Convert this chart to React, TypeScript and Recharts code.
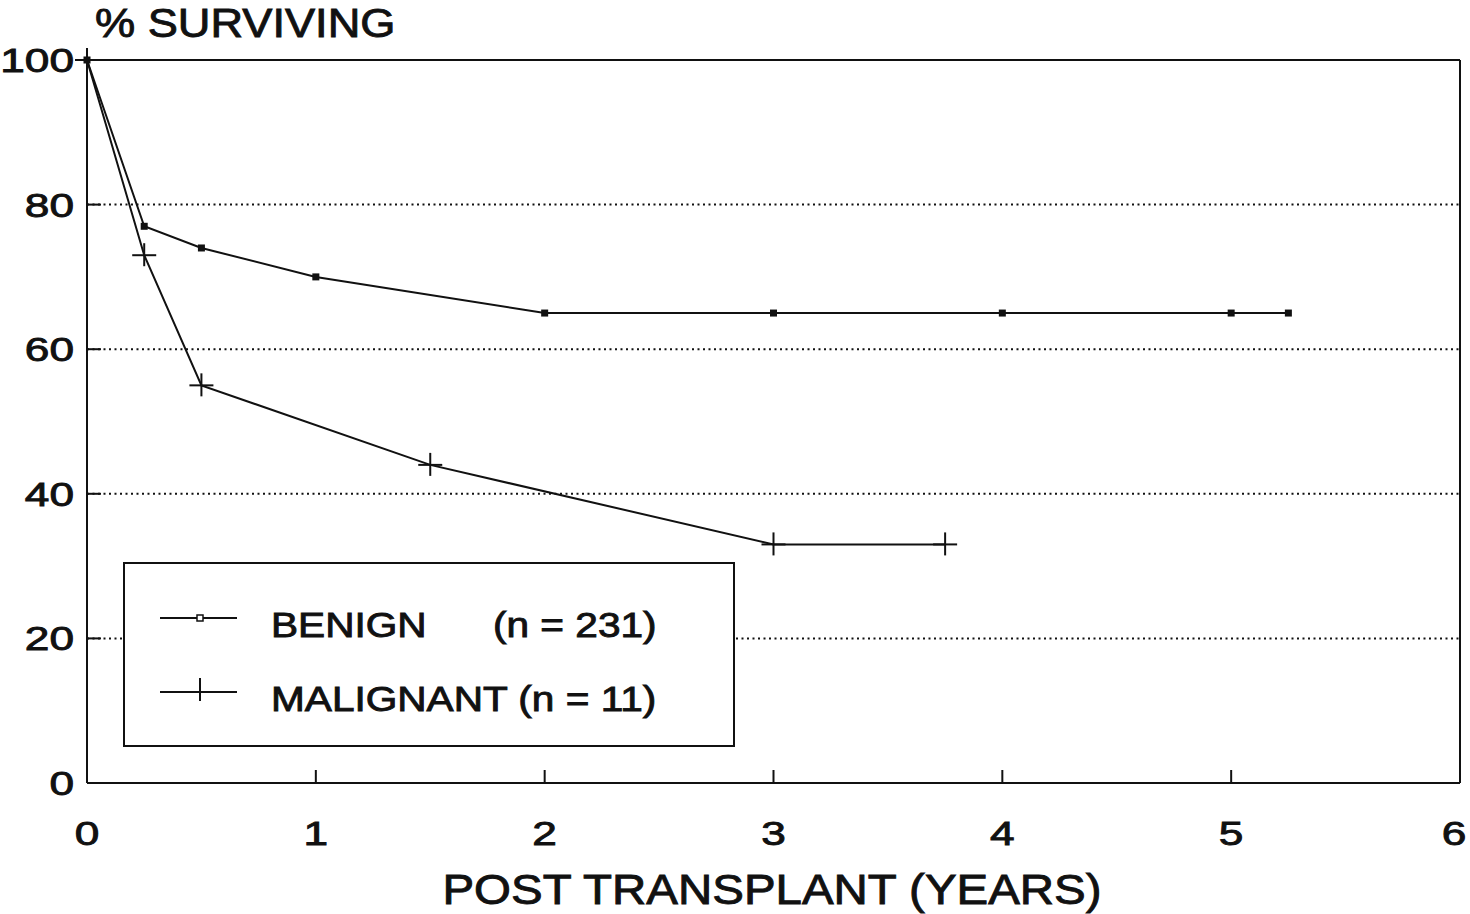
import React from "react";
import {
  LineChart, Line, XAxis, YAxis, CartesianGrid, ReferenceLine,
} from "recharts";

// survival curves
const benignYears = [0, 0.25, 0.5, 1, 2, 3, 4, 5, 5.25];
const benignSurvival = [100, 77, 74, 70, 65, 65, 65, 65, 65];
const malignantYears = [0, 0.25, 0.5, 1.5, 3, 3.75];
const malignantSurvival = [100, 73, 55, 44, 33, 33];

const xTicks = [0, 1, 2, 3, 4, 5, 6];
const yTicks = [0, 20, 40, 60, 80, 100];

const benignLabel = "BENIGN";
const benignCount = "(n = 231)";
const malignantLabel = "MALIGNANT (n = 11)";

const benignData = benignYears.map((x, i) => ({ x, y: benignSurvival[i] }));
const malignantData = malignantYears.map((x, i) => ({ x, y: malignantSurvival[i] }));

const FONT = "'Liberation Sans', Arial, Helvetica, sans-serif";
const INK = "#111";

// the print uses a wide grotesque, so stretch Arial-metric glyphs a little
function WideText({ x, y, size, sx = 1.14, anchor = "start", children }: any) {
  return (
    <text
      transform={`translate(${x},${y}) scale(${sx},1)`}
      textAnchor={anchor}
      fontFamily={FONT}
      fontSize={size}
      fill={INK}
      stroke={INK}
      strokeWidth={0.9}
    >
      {children}
    </text>
  );
}

function YTick({ x, y, payload }: any) {
  return (
    <g>
      <WideText x={x - 13} y={y + 12} size={34} sx={1.3} anchor="end">
        {payload.value}
      </WideText>
      <line x1={x} x2={x + 14} y1={y} y2={y} stroke={INK} strokeWidth={2} />
    </g>
  );
}

function XTick({ x, y, payload }: any) {
  // last label sits on the page edge; keep it inside
  const tx = Math.min(x, 1454);
  return (
    <g>
      <line x1={x} x2={x} y1={y} y2={y - 13} stroke={INK} strokeWidth={2} />
      <WideText x={tx} y={y + 62} size={34} sx={1.3} anchor="middle">
        {payload.value}
      </WideText>
    </g>
  );
}

function SquareDot({ cx, cy, index }: any) {
  return <rect key={`s${index}`} x={cx - 3.5} y={cy - 3.5} width={7} height={7} fill={INK} />;
}

function PlusDot({ cx, cy, index }: any) {
  return (
    <g key={`p${index}`}>
      <line x1={cx - 12} x2={cx + 12} y1={cy} y2={cy} stroke={INK} strokeWidth={2} />
      <line x1={cx} x2={cx} y1={cy - 12} y2={cy + 11} stroke={INK} strokeWidth={2} />
    </g>
  );
}

function LegendBox() {
  return (
    <div
      style={{
        position: "absolute", left: 123, top: 562, width: 608, height: 181,
        border: `2px solid ${INK}`, background: "#fff",
      }}
    >
      <svg width={608} height={181} style={{ display: "block" }}>
        <g transform="translate(-125,-564)">
          <line x1={160} x2={237} y1={618} y2={618} stroke={INK} strokeWidth={2} />
          <rect x={197} y={615} width={6} height={6} fill="#fff" stroke={INK} strokeWidth={1.5} />
          <WideText x={271} y={637} size={35} sx={1.16}>{benignLabel}</WideText>
          <WideText x={493} y={637} size={35} sx={1.16}>{benignCount}</WideText>
          <line x1={160} x2={237} y1={692} y2={692} stroke={INK} strokeWidth={2} />
          <line x1={200} x2={200} y1={678} y2={701} stroke={INK} strokeWidth={2} />
          <WideText x={271} y={711} size={35} sx={1.16}>{malignantLabel}</WideText>
        </g>
      </svg>
    </div>
  );
}

export default function App() {
  return (
    <div style={{ position: "absolute", left: 0, top: 0, width: 1470, height: 914, background: "#fff" }}>
      <LineChart
        width={1470}
        height={914}
        margin={{ top: 60, right: 10, bottom: 0, left: 0 }}
      >
        <CartesianGrid
          vertical={false}
          stroke={INK}
          strokeWidth={2}
          strokeDasharray="2 3.5"
          horizontalValues={[20, 40, 60, 80]}
        />
        <XAxis
          type="number"
          dataKey="x"
          domain={[0, 6]}
          ticks={xTicks}
          interval={0}
          height={131}
          tickSize={0}
          tickMargin={0}
          tickLine={false}
          axisLine={{ stroke: INK, strokeWidth: 2 }}
          tick={<XTick />}
        />
        <YAxis
          type="number"
          dataKey="y"
          domain={[0, 100]}
          ticks={yTicks}
          interval={0}
          width={87}
          tickSize={0}
          tickMargin={0}
          tickLine={false}
          axisLine={{ stroke: INK, strokeWidth: 2 }}
          tick={<YTick />}
        />
        <ReferenceLine y={100} stroke={INK} strokeWidth={2} />
        <ReferenceLine x={6} stroke={INK} strokeWidth={2} />
        <Line
          data={benignData}
          dataKey="y"
          type="linear"
          stroke={INK}
          strokeWidth={2}
          dot={<SquareDot />}
          isAnimationActive={false}
        />
        <Line
          data={malignantData}
          dataKey="y"
          type="linear"
          stroke={INK}
          strokeWidth={2}
          dot={<PlusDot />}
          isAnimationActive={false}
        />
        <WideText x={95} y={37} size={40} sx={1.13}>% SURVIVING</WideText>
        <WideText x={772} y={904} size={42} sx={1.13} anchor="middle">
          POST TRANSPLANT (YEARS)
        </WideText>
      </LineChart>
      <LegendBox />
    </div>
  );
}
